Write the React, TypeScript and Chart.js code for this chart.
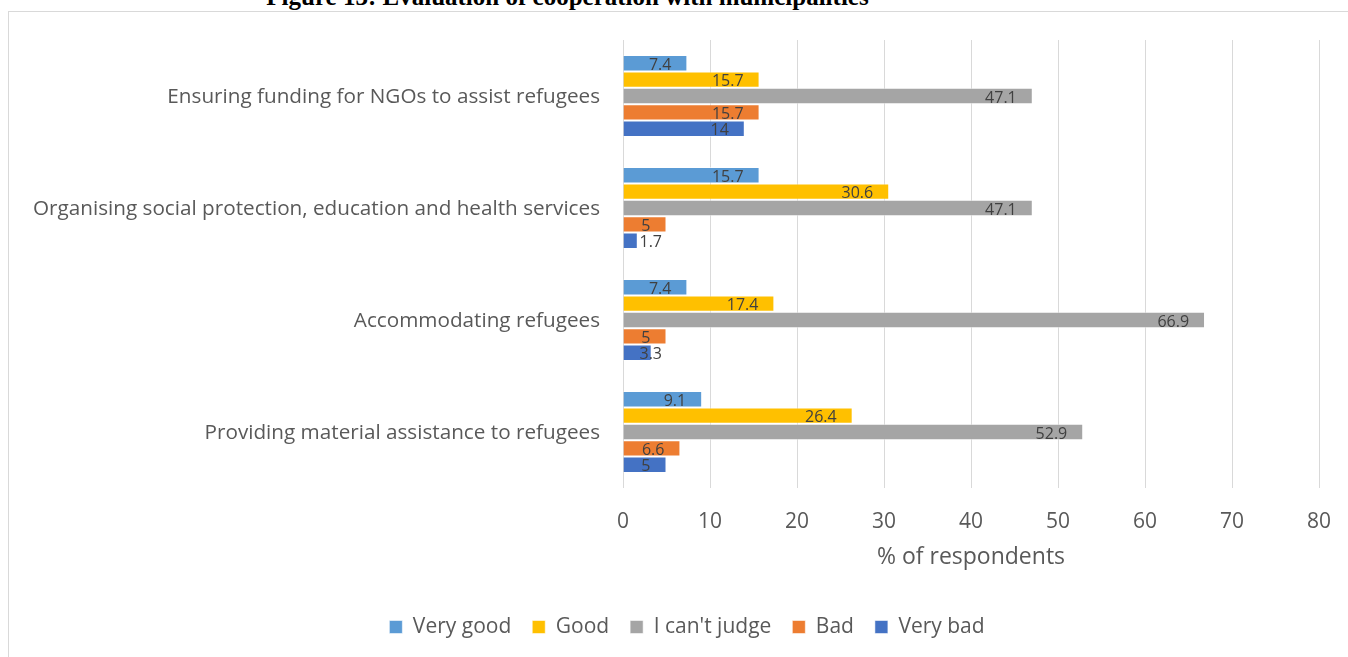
import React, { useEffect, useRef } from "react";
import { Chart, registerables } from "chart.js";

Chart.register(...registerables);

const categories = [
  "Ensuring funding for NGOs to assist refugees",
  "Organising social protection, education and health services",
  "Accommodating refugees",
  "Providing material assistance to refugees",
];
const seriesNames = ["Very good", "Good", "I can't judge", "Bad", "Very bad"];
const veryGood = [7.4, 15.7, 7.4, 9.1];
const good = [15.7, 30.6, 17.4, 26.4];
const cantJudge = [47.1, 47.1, 66.9, 52.9];
const bad = [15.7, 5, 5, 6.6];
const veryBad = [14, 1.7, 3.3, 5];
const seriesColors = ["#5B9BD5", "#FFC000", "#A5A5A5", "#ED7D31", "#4472C4"];
const xMin = 0;
const xMax = 80;
const xStep = 10;
const titleText = "Figure 13: Evaluation of cooperation with municipalities";
const xAxisTitle = "% of respondents";

const TEXT = "#595959";
const FONT = "'Open Sans', 'Noto Sans', sans-serif";

const barLabels = {
  id: "barLabels",
  afterDatasetsDraw(chart: any) {
    const ctx = chart.ctx;
    ctx.save();
    ctx.font = `16px ${FONT}`;
    ctx.fillStyle = "#404040";
    ctx.textAlign = "right";
    ctx.textBaseline = "middle";
    chart.data.datasets.forEach((ds: any, i: number) => {
      const meta = chart.getDatasetMeta(i);
      meta.data.forEach((el: any, j: number) => {
        const txt = String(ds.data[j]);
        const w = ctx.measureText(txt).width;
        const right = Math.max(el.x - 16, el.base + 16 + w);
        ctx.fillText(txt, right, el.y + 2);
      });
    });
    ctx.restore();
  },
};

const legendShift = {
  id: "legendShift",
  afterLayout(chart: any) {
    const lg = chart.legend;
    if (lg) {
      lg.left += 23;
      lg.right += 23;
    }
  },
};

export default function App() {
  const ref = useRef<HTMLCanvasElement>(null);

  useEffect(() => {
    if (!ref.current) return;
    const values = [veryGood, good, cantJudge, bad, veryBad];
    const chart = new Chart(ref.current, {
      type: "bar",
      data: {
        labels: categories,
        datasets: seriesNames.map((name, i) => ({
          label: name,
          data: values[i],
          backgroundColor: seriesColors[i],
          borderColor: "rgba(255,255,255,0.55)",
          borderWidth: 1,
          categoryPercentage: 0.732,
          barPercentage: 1,
        })),
      },
      options: {
        indexAxis: "y",
        responsive: false,
        animation: false,
        devicePixelRatio: 1,
        layout: { padding: { left: 0, right: 47, top: 28, bottom: 10.5 } },
        plugins: {
          legend: {
            position: "bottom",
            labels: {
              boxWidth: 13,
              boxHeight: 13,
              padding: 21,
              color: TEXT,
              font: { family: FONT, size: 21 },
            },
          },
          tooltip: { enabled: false },
        },
        scales: {
          x: {
            min: xMin,
            max: xMax,
            ticks: { stepSize: xStep, padding: 21, color: TEXT, font: { family: FONT, size: 21 } },
            grid: { color: "#D9D9D9", drawTicks: false, lineWidth: 1 },
            border: { display: false },
            title: {
              display: true,
              text: xAxisTitle,
              color: TEXT,
              font: { family: FONT, size: 23 },
              padding: { top: 10, bottom: 24.7 },
            },
            afterFit: (s: any) => {
              s.height = 107.5;
            },
          },
          y: {
            ticks: { padding: 23, labelOffset: 1, color: TEXT, font: { family: FONT, size: 20.7 } },
            grid: { display: false, drawTicks: false },
            border: { display: false },
            afterFit: (s: any) => {
              s.width = 614;
              s.paddingTop = 0;
              s.paddingBottom = 0;
            },
          },
        },
      } as any,
      plugins: [barLabels, legendShift],
    });
    return () => chart.destroy();
  }, []);

  return (
    <div
      style={{
        position: "fixed",
        left: 0,
        top: 0,
        width: 1348,
        height: 657,
        overflow: "hidden",
        background: "#ffffff",
      }}
    >
      <div
        style={{
          position: "absolute",
          left: 8,
          top: 11,
          width: 1400,
          height: 700,
          border: "1px solid #D9D9D9",
          boxSizing: "border-box",
        }}
      />
      <div
        style={{
          position: "absolute",
          left: 0,
          top: -16,
          width: 1135,
          textAlign: "center",
          font: "bold 25px 'Liberation Serif', 'Times New Roman', serif",
          lineHeight: "25px",
          whiteSpace: "nowrap",
          color: "#000000",
        }}
      >
        {titleText}
      </div>
      <canvas
        ref={ref}
        width={1357}
        height={646}
        style={{ position: "absolute", left: 9, top: 12, width: 1357, height: 646 }}
      />
    </div>
  );
}
